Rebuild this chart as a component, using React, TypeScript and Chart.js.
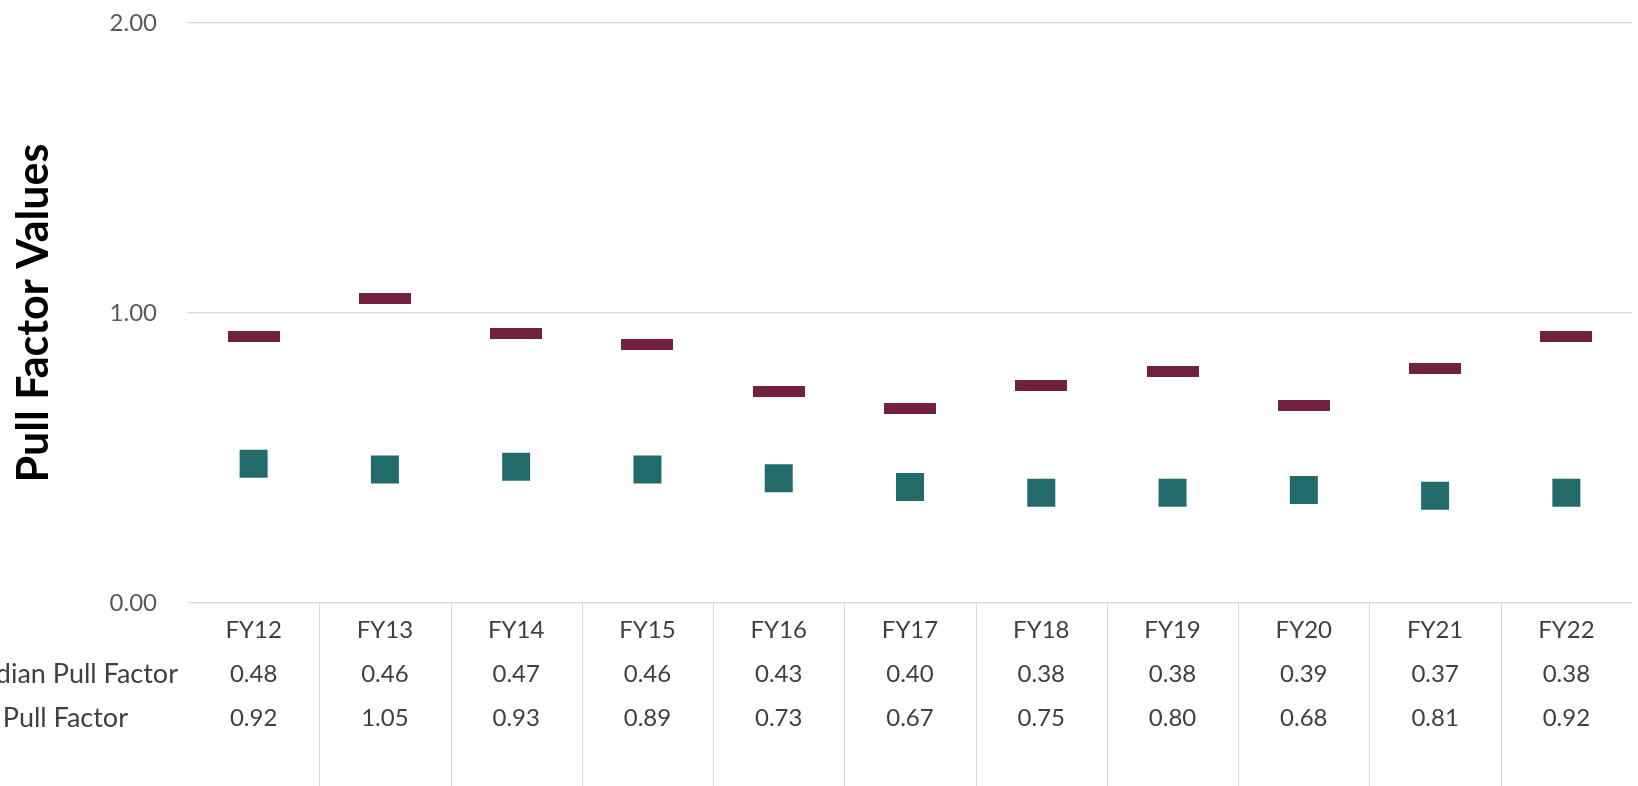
import { useEffect, useRef } from "react";
import { Chart, registerables } from "chart.js";

Chart.register(...registerables);

const categories = ["FY12", "FY13", "FY14", "FY15", "FY16", "FY17", "FY18", "FY19", "FY20", "FY21", "FY22"];
const medianPullFactor = [0.48, 0.46, 0.47, 0.46, 0.43, 0.4, 0.38, 0.38, 0.39, 0.37, 0.38];
const averagePullFactor = [0.92, 1.05, 0.93, 0.89, 0.73, 0.67, 0.75, 0.8, 0.68, 0.81, 0.92];
const rowLabels = ["Median Pull Factor", "Average Pull Factor"];
const yAxisTitle = "Pull Factor Values";

const FONT = "Lato, 'Open Sans', sans-serif";
const TEAL = "#236b6b";
const MAROON = "#70213f";
const GRID = "#d9d9d9";
const TEXT = "#404040";

function makeBar(w: number, h: number, color: string) {
  const c = document.createElement("canvas");
  c.width = w;
  c.height = h;
  const ctx = c.getContext("2d")!;
  ctx.fillStyle = color;
  ctx.fillRect(0, 0, w, h);
  return c;
}

const tablePlugin = {
  id: "dataTable",
  afterDraw(chart: any) {
    const { ctx, chartArea } = chart;
    const x = chart.scales.x;
    const n = categories.length;
    const bottom = chart.height;
    ctx.save();
    ctx.strokeStyle = GRID;
    ctx.lineWidth = 1;
    for (let i = 1; i < n; i++) {
      const bx = Math.round((x.getPixelForValue(i - 1) + x.getPixelForValue(i)) / 2) + 0.5;
      ctx.beginPath();
      ctx.moveTo(bx, chartArea.bottom);
      ctx.lineTo(bx, bottom);
      ctx.stroke();
    }
    ctx.fillStyle = TEXT;
    ctx.textBaseline = "middle";
    const rows = [medianPullFactor, averagePullFactor];
    const rowOffsets = [71, 115];
    const labelRight = [178, 128];
    rows.forEach((vals, r) => {
      const y = chartArea.bottom + rowOffsets[r];
      ctx.font = `24px ${FONT}`;
      ctx.textAlign = "center";
      vals.forEach((v, i) => {
        ctx.fillText(v.toFixed(2), x.getPixelForValue(i), y);
      });
      ctx.font = `27px ${FONT}`;
      ctx.textAlign = "right";
      ctx.fillText(rowLabels[r], labelRight[r], y);
    });
    ctx.restore();
  },
};

export default function App() {
  const ref = useRef<HTMLCanvasElement | null>(null);

  useEffect(() => {
    if (!ref.current) return;
    const dash = makeBar(52, 11, MAROON);
    const chart = new Chart(ref.current, {
      type: "line",
      data: {
        labels: categories,
        datasets: [
          {
            label: rowLabels[0],
            data: medianPullFactor,
            showLine: false,
            pointStyle: "rect",
            pointRadius: 19.8,
            pointBackgroundColor: TEAL,
            pointBorderWidth: 0,
            borderColor: TEAL,
            backgroundColor: TEAL,
          },
          {
            label: rowLabels[1],
            data: averagePullFactor,
            showLine: false,
            pointStyle: dash as any,
            pointRadius: 10,
            pointBorderWidth: 0,
            borderColor: MAROON,
            backgroundColor: MAROON,
          },
        ],
      },
      options: {
        animation: false,
        responsive: true,
        maintainAspectRatio: false,
        events: [],
        layout: { autoPadding: false, padding: { top: 23, right: 6, left: 0, bottom: 0 } },
        plugins: {
          legend: { display: false },
          tooltip: { enabled: false },
        },
        scales: {
          x: {
            type: "category",
            offset: true,
            grid: { display: false },
            border: { display: false },
            ticks: {
              font: { family: FONT, size: 24 },
              color: TEXT,
              padding: 5,
              maxRotation: 0,
              autoSkip: false,
            },
            afterFit: (s: any) => {
              s.height = 183;
              s.paddingLeft = 0;
              s.paddingRight = 0;
            },
          },
          y: {
            min: 0,
            max: 2,
            border: { display: false },
            grid: { color: GRID, lineWidth: 1.2, drawTicks: false },
            ticks: {
              stepSize: 1,
              font: { family: FONT, size: 24 },
              color: "#595959",
              padding: 31,
              callback: (v: any) => Number(v).toFixed(2),
            },
            title: {
              display: true,
              text: yAxisTitle,
              color: "#000000",
              font: { family: FONT, size: 43, weight: "bold" },
              padding: { top: 8, bottom: 0 },
            },
            afterFit: (s: any) => {
              s.width = 188;
              s.paddingTop = 0;
              s.paddingBottom = 0;
            },
          },
        },
      },
      plugins: [tablePlugin],
    });
    return () => chart.destroy();
  }, []);

  return (
    <div style={{ position: "fixed", left: 0, top: 0, width: 1638, height: 786, background: "#fff" }}>
      <canvas ref={ref} />
    </div>
  );
}
